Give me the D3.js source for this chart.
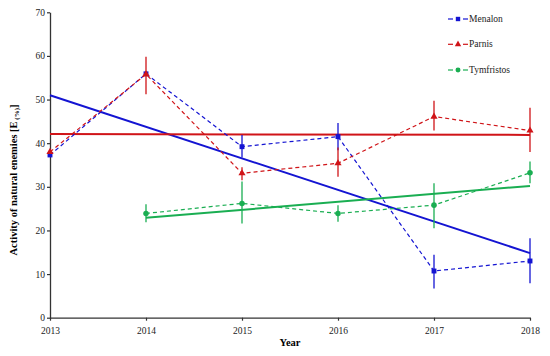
<!DOCTYPE html>
<html>
<head>
<meta charset="utf-8">
<script src="https://cdn.jsdelivr.net/npm/d3@7"></script>
<style>
  body { margin: 0; background: #fff; }
  text { font-family: "Liberation Serif", "Times New Roman", serif; }
</style>
</head>
<body>
<div id="chart"></div>
<script>
// data
var years = [2013, 2014, 2015, 2016, 2017, 2018]
var yTicks = [0, 10, 20, 30, 40, 50, 60, 70]

var menalon    = [37.3, 55.9, 39.2, 41.5, 10.7, 13.0]
var menalonLo  = [37.3, 55.9, 36.7, 38.4, 6.7, 7.9]
var menalonHi  = [37.3, 55.9, 41.9, 44.6, 14.4, 18.2]

var parnis     = [38.0, 55.8, 33.1, 35.4, 46.1, 42.9]
var parnisLo   = [38.0, 51.2, 31.5, 32.3, 42.9, 38.0]
var parnisHi   = [38.0, 59.8, 34.5, 39.0, 49.7, 48.1]

var tymYears   = [2014, 2015, 2016, 2017, 2018]
var tymfristos = [23.9, 26.2, 23.9, 25.8, 33.2]
var tymLo      = [21.9, 21.6, 22.0, 20.5, 30.8]
var tymHi      = [26.0, 31.2, 25.8, 30.8, 35.8]

// linear trend ends
var menalonTrend = [[2013, 51.0], [2018, 14.8]]
var parnisTrend  = [[2013, 42.1], [2018, 41.9]]
var tymTrend     = [[2014, 22.9], [2018, 30.2]]

var width = 550, height = 356

var svg = d3.select("#chart").append("svg")
  .attr("width", width)
  .attr("height", height)

var x = d3.scaleLinear().domain([2013, 2018]).range([50, 530])
var y = d3.scaleLinear().domain([0, 70]).range([317.7, 12.3])

// axes
var xAxis = svg.append("g")
  .attr("transform", "translate(0," + y(0) + ")")
  .call(d3.axisBottom(x).tickValues(years).tickFormat(d3.format("d")).tickSize(3).tickSizeOuter(0))
var yAxis = svg.append("g")
  .attr("transform", "translate(" + x(2013) + ",0)")
  .call(d3.axisLeft(y).tickValues(yTicks).tickSize(3).tickSizeOuter(0))

;[xAxis, yAxis].forEach(function(a){
  a.attr("font-family", "Liberation Serif")
  a.select(".domain").attr("stroke", "#333").attr("stroke-width", 1.3)
  a.selectAll(".tick line").attr("stroke", "#333").attr("stroke-width", 1.2)
  a.selectAll(".tick text").attr("font-size", 9.5).attr("fill", "#222")
})
xAxis.selectAll(".tick text").attr("dy", "1.1em")
yAxis.selectAll(".tick text").attr("x", -5)

// axis titles
svg.append("text")
  .attr("x", 290).attr("y", 346)
  .attr("text-anchor", "middle")
  .attr("font-size", 10.5).attr("font-weight", "bold")
  .text("Year")

var yt = svg.append("text")
  .attr("transform", "translate(17," + 180 + ") rotate(-90)")
  .attr("text-anchor", "middle")
  .attr("font-size", 10.5).attr("font-weight", "bold")
yt.append("tspan").text("Activity of natural enemies [E")
yt.append("tspan").attr("font-size", 7).attr("dy", 2).text(" (%)")
yt.append("tspan").attr("dy", -2).text("]")

var series = [
  {name: "Menalon", color: "#1414d2", xs: years, v: menalon, lo: menalonLo, hi: menalonHi, trend: menalonTrend, sym: d3.symbolSquare, size: 24},
  {name: "Parnis", color: "#d01418", xs: years, v: parnis, lo: parnisLo, hi: parnisHi, trend: parnisTrend, sym: d3.symbolTriangle, size: 22},
  {name: "Tymfristos", color: "#1aae52", xs: tymYears, v: tymfristos, lo: tymLo, hi: tymHi, trend: tymTrend, sym: d3.symbolCircle, size: 24}
]

var line = d3.line().x(function(d){ return x(d[0]) }).y(function(d){ return y(d[1]) })

// trend lines
series.forEach(function(s){
  svg.append("path")
    .attr("d", line(s.trend))
    .attr("fill", "none")
    .attr("stroke", s.color)
    .attr("stroke-width", 2)
})

// error bars, dashed lines, markers
series.forEach(function(s){
  var pts = s.xs.map(function(yr, i){ return [yr, s.v[i], s.lo[i], s.hi[i]] })
  var g = svg.append("g")
  g.selectAll("line.err").data(pts).enter().append("line")
    .attr("x1", function(d){ return x(d[0]) })
    .attr("x2", function(d){ return x(d[0]) })
    .attr("y1", function(d){ return y(d[2]) })
    .attr("y2", function(d){ return y(d[3]) })
    .attr("stroke", s.color)
    .attr("stroke-width", 1.3)
  g.append("path")
    .attr("d", line(pts))
    .attr("fill", "none")
    .attr("stroke", s.color)
    .attr("stroke-width", 1.2)
    .attr("stroke-dasharray", "4,3")
  g.selectAll("path.m").data(pts).enter().append("path")
    .attr("d", d3.symbol().type(s.sym).size(s.size))
    .attr("transform", function(d){ return "translate(" + x(d[0]) + "," + y(d[1]) + ")" })
    .attr("fill", s.color)
})

// legend
var legend = svg.append("g").selectAll("g")
  .data(series).enter().append("g")
  .attr("transform", function(d, i){ return "translate(448," + [19, 44.3, 70][i] + ")" })
legend.append("line")
  .attr("x1", 0).attr("x2", 5).attr("stroke", function(d){ return d.color }).attr("stroke-width", 1.2)
legend.append("line")
  .attr("x1", 15).attr("x2", 20).attr("stroke", function(d){ return d.color }).attr("stroke-width", 1.2)
legend.append("path")
  .attr("d", function(d){ return d3.symbol().type(d.sym).size(d.size * 0.8)() })
  .attr("transform", "translate(10,0)")
  .attr("fill", function(d){ return d.color })
legend.append("text")
  .attr("x", 21).attr("dy", "0.33em")
  .attr("font-size", 9.5).attr("fill", "#222")
  .text(function(d){ return d.name })
</script>
</body>
</html>
